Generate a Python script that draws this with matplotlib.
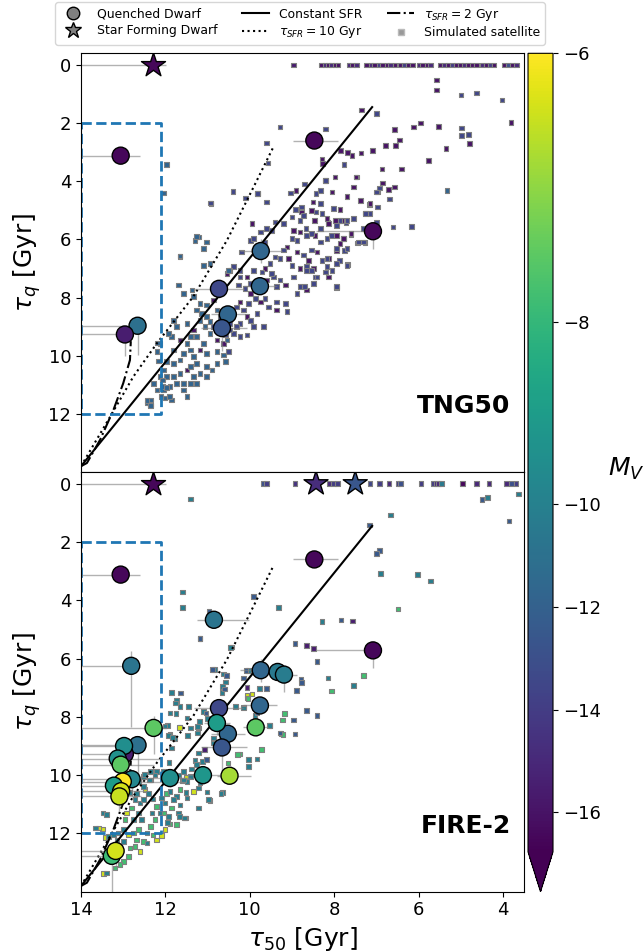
import numpy as np
import matplotlib
matplotlib.use('Agg')
import matplotlib.pyplot as plt
from matplotlib.colors import FuncNorm
from matplotlib.lines import Line2D

# ---------------------------------------------------------------------------
# colour scale (non-uniform M_V spacing)
mv_nodes = [-30.0, -16.77, -10.0, -8.0, -6.0, 0.0]
cb_nodes = [-0.86, 0.0, 0.435, 0.663, 1.0, 2.0]
mv_ticks = [-6, -8, -10, -12, -14, -16]

# model tracks (tau50, tauq)
const_t50 = [14.0, 7.1]
const_tq = [13.8, 1.45]
sfr10_t50 = [14.0, 13.31, 12.76, 12.2, 11.34, 10.54, 9.91, 9.45]
sfr10_tq = [13.8, 12.1, 10.72, 9.57, 7.97, 6.03, 4.2, 2.85]
sfr2_t50 = [14.0, 13.86, 13.55, 13.23, 13.0, 12.84, 12.82]
sfr2_tq = [13.8, 13.69, 12.9, 11.86, 10.95, 10.15, 9.5]
box_t50 = [14.0, 12.1]
box_tq = [2.0, 12.0]

# observed quenched dwarfs (both panels)
obs_t50 = [13.06, 12.66, 12.96, 10.73, 9.74, 9.76, 10.52, 10.66, 8.47, 7.08]
obs_tq = [3.12, 8.97, 9.27, 7.70, 6.40, 7.61, 8.58, 9.05, 2.60, 5.72]
obs_mv = [-16.5, -11.1, -15.5, -13.4, -11.7, -11.7, -11.7, -12.6, -16.5, -16.5]
obs_t50_lo = [0.46, 0.1, 0.1, 0.6, 0.5, 0.4, 0.4, 0.6, 0.55, 0.0]
obs_t50_hi = [0.94, 1.34, 1.04, 0.6, 0.5, 0.4, 0.4, 0.5, 0.5, 1.35]
obs_tq_lo = [0.0, 0.0, 0.0, 0.3, 0.4, 0.2, 0.3, 0.3, 0.0, 0.0]
obs_tq_hi = [0.0, 1.0, 0.75, 0.3, 0.4, 0.2, 0.3, 0.8, 0.0, 0.6]

# observed star forming dwarfs
sf_t50 = [12.29]
sf_mv = [-16.5]
sf_t50_lo = [0.3]
sf_t50_hi = [1.71]
fire_sf_t50 = [8.43, 7.50]
fire_sf_mv = [-14.8, -12.6]

# extra quenched dwarfs shown in the FIRE-2 panel
fobs_t50 = [12.81, 10.85, 9.34, 9.19, 10.78, 9.86, 10.48, 11.11, 11.89, 12.28,
            12.98, 13.13, 13.06, 12.80, 13.01, 13.22, 13.05, 13.09, 13.27, 13.18]
fobs_tq = [6.25, 4.67, 6.46, 6.55, 8.21, 8.36, 10.02, 10.0, 10.1, 8.38,
           9.0, 9.43, 9.64, 10.14, 10.22, 10.36, 10.55, 10.73, 12.77, 12.60]
fobs_mv = [-10.8, -10.8, -10.5, -10.3, -9.0, -7.5, -6.8, -9.2, -9.5, -7.5,
           -9.5, -9.4, -7.5, -9.8, -6.0, -9.0, -6.4, -6.5, -7.9, -6.4]
fobs_t50_lo = [0.1, 0.82, 0.3, 0.3, 0.3, 0.3, 0.5, 0.4, 0.5, 0.3,
               0.5, 1.0, 0.8, 0.3, 1.5, 0.3, 0.6, 0.5, 0.2, 0.2]
fobs_t50_hi = [1.19, 0.41, 0.3, 0.3, 0.3, 0.3, 0.3, 0.4, 0.5, 1.72,
               1.02, 0.87, 0.94, 1.2, 0.99, 0.78, 0.95, 0.91, 0.73, 0.82]
fobs_tq_lo = [0.5, 0.0, 0.3, 0.3, 0.3, 0.3, 0.3, 0.3, 0.3, 0.4,
              0.2, 0.2, 0.2, 0.2, 0.2, 0.2, 0.2, 0.2, 0.3, 0.3]
fobs_tq_hi = [2.1, 0.0, 0.3, 0.6, 0.4, 0.3, 0.3, 0.3, 0.3, 0.9,
              0.5, 0.5, 0.5, 0.6, 0.5, 0.5, 0.5, 0.5, 1.23, 0.5]

# ---------------------------------------------------------------------------
# TNG50 simulated satellites
tng_row_t50 = [8.97, 8.30, 8.22, 8.14, 8.06, 7.98, 7.91, 7.65, 7.56, 7.47, 7.23,
               7.13, 7.04, 6.94, 6.85, 6.75, 6.66, 6.56, 6.44, 6.34, 6.25, 6.15,
               5.99, 5.90, 5.80, 5.71, 5.49, 5.39, 5.30, 5.20, 5.11, 5.01, 4.92,
               4.82, 4.73, 4.63, 4.50, 4.40, 4.31, 4.21, 3.97, 3.87, 3.78, 3.68]
tng_row_mv = [-15.5, -16, -15, -16, -15, -16, -16, -15, -16, -15, -16,
              -15, -16, -14, -16, -16, -15, -16, -16, -14, -16, -16,
              -15, -16, -16, -15, -16, -15, -16, -14, -16, -16, -15,
              -16, -16, -16, -15, -16, -14, -16, -16, -13, -16, -15]

tng_p_t50 = [5.57, 5.57, 3.81, 7.35, 6.57, 6.12, 5.95, 5.53, 4.79, 5.35, 5.76, 6.45,
             6.55, 6.79, 7.09, 7.36, 7.58, 7.68, 7.85, 8.29, 8.28, 6.87, 6.40, 7.47,
             6.85, 6.57, 6.71, 6.97, 7.16, 7.26, 7.45, 7.27, 7.60, 7.78, 7.95, 8.15,
             7.97, 8.46, 8.45, 8.13, 7.98, 8.21, 8.90, 7.48, 7.54, 8.05, 7.70, 7.38,
             7.15, 8.50, 8.53, 8.77, 8.17, 7.86, 8.13, 7.82, 7.94, 7.78, 7.60, 7.86,
             8.96, 8.81, 9.12, 8.88, 8.61, 8.41, 9.08, 8.81, 8.49, 8.13, 9.16, 9.60,
             9.64, 10.07, 9.95, 9.82, 10.54, 9.99, 9.75, 10.23, 10.07, 10.62, 10.78,
             11.18, 11.34, 11.49, 11.65, 10.86, 9.36, 8.65]
tng_p_tq = [0.52, 0.86, 1.97, 1.55, 2.23, 2.14, 2.00, 2.12, 2.71, 2.88, 3.28, 2.58,
            2.78, 2.78, 2.94, 3.03, 3.11, 3.01, 2.94, 3.23, 3.40, 3.58, 3.58, 3.86,
            4.06, 4.20, 4.29, 4.37, 4.79, 5.09, 6.12, 6.10, 5.84, 5.96, 6.40, 5.40,
            5.34, 5.34, 5.86, 6.66, 3.86, 3.97, 4.31, 3.86, 4.20, 4.37, 4.52, 4.66,
            4.77, 4.71, 5.00, 5.06, 5.29, 4.98, 5.46, 5.34, 5.86, 5.97, 5.80, 6.14,
            5.69, 5.74, 6.26, 6.43, 6.72, 6.43, 6.66, 7.00, 7.00, 7.29, 7.57, 7.40,
            7.00, 7.29, 5.46, 4.43, 7.17, 7.86, 8.15, 8.15, 8.66, 9.58, 9.46,
            9.81, 9.12, 10.49, 9.46, 8.09, 8.43, 7.74]

tng_b_t50 = [4.99, 4.63, 4.02, 7.00, 8.20, 4.98, 4.98, 4.81, 7.77, 8.21, 6.93, 6.69,
             6.97, 7.00, 6.61, 6.17, 7.31, 7.76, 7.87, 7.69, 8.07, 7.86, 7.72, 8.33,
             8.21, 8.45, 7.94, 8.71, 8.65, 8.70, 9.04, 8.43, 8.33, 10.40, 10.92, 6.99,
             7.15, 7.26, 8.91, 8.73, 8.43, 8.29, 8.02, 7.94, 7.70, 7.54, 7.70, 7.42,
             7.30, 8.17, 7.94, 9.40, 9.48, 9.60, 9.20, 8.65, 8.53, 8.88, 9.00, 9.20,
             8.73, 8.53, 8.33, 9.28, 9.40, 9.52, 9.00, 8.65, 8.29, 8.17, 8.05, 7.94,
             8.96, 9.36, 9.28, 9.44, 9.48, 9.71, 9.91, 9.99, 10.23, 10.19, 9.99, 9.91,
             9.75, 9.64, 10.23, 10.39, 10.47, 10.27, 10.11, 9.87, 9.64, 9.56, 9.12,
             9.16, 9.36, 10.03, 10.31, 10.15, 10.23, 9.99, 9.83, 9.91, 9.68, 10.07,
             10.23, 10.39, 10.47, 10.31, 10.58, 10.51, 8.49, 8.17, 7.94, 7.70, 8.81,
             9.00, 8.67, 8.77, 8.33, 8.53, 8.41, 8.81, 8.88, 10.62, 10.47, 10.70,
             10.70, 10.86, 10.93, 10.10, 9.81, 9.60, 9.28, 9.60, 9.57]
tng_b_tq = [1.03, 0.97, 1.20, 1.68, 2.20, 2.17, 2.43, 2.40, 3.43, 3.97, 4.23, 4.61,
            4.89, 5.40, 5.57, 5.55, 5.63, 6.38, 6.73, 6.86, 5.86, 5.34, 5.43, 5.63,
            7.12, 7.29, 7.65, 7.63, 6.94, 4.09, 4.40, 4.43, 4.31, 4.35, 4.77, 4.37,
            5.11, 5.11, 4.98, 5.17, 5.06, 5.11, 4.94, 5.52, 5.34, 5.29, 6.32, 6.09,
            6.09, 5.97, 6.32, 5.40, 5.69, 5.63, 5.46, 5.86, 5.80, 6.03, 5.97, 6.37,
            6.54, 6.37, 6.09, 6.66, 6.60, 6.83, 6.89, 7.06, 6.72, 6.66, 7.06, 7.63,
            7.29, 7.63, 7.40, 7.29, 7.17, 7.12, 7.06, 7.52, 7.29, 6.43, 6.03, 5.97,
            5.74, 6.09, 7.06, 6.94, 7.06, 7.57, 7.69, 8.03, 8.03, 8.32, 8.49,
            8.20, 8.15, 8.20, 8.32, 8.43, 8.89, 8.78, 8.55, 9.00, 9.00, 9.29,
            9.35, 9.23, 9.12, 9.00, 9.29, 9.86, 7.52, 6.94, 6.83, 6.89, 5.34,
            5.23, 5.63, 4.89, 4.77, 7.06, 7.29, 7.63, 7.86, 9.00, 8.89, 8.66,
            9.00, 9.00, 4.75, 4.57, 4.43, 4.71, 2.14, 2.68, 3.37]

tng_t_t50 = [5.33, 10.62, 10.78, 10.54, 10.94, 11.02, 11.18, 11.41, 11.49, 11.81, 11.73,
             11.49, 11.26, 11.18, 11.34, 11.37, 11.57, 11.69, 11.10, 10.94, 11.10, 11.02,
             11.30, 11.22, 11.65, 10.51, 10.78, 11.02, 11.14, 11.06, 10.94, 11.10, 11.26,
             11.02, 10.78, 10.90, 11.02, 11.18, 11.26, 11.34, 11.41, 11.57, 11.65, 11.81,
             11.97, 12.05, 12.13, 11.97, 11.81, 11.65, 11.41, 11.73, 11.89, 12.05, 12.28,
             12.20, 11.85, 12.01, 11.81, 11.85, 11.93, 12.13, 12.20, 11.02, 10.58, 11.26,
             11.57, 12.44, 12.36, 11.41, 11.57, 11.49, 12.36, 12.44, 12.35, 11.98, 12.05,
             12.18, 12.17, 12.07, 12.07, 11.98, 12.10, 11.90, 11.65, 11.26, 11.34]
tng_t_tq = [4.31, 9.98, 9.86, 9.46, 8.83, 8.66, 8.78, 9.35, 9.58, 8.78, 9.00,
            8.89, 8.43, 8.20, 7.97, 7.74, 7.86, 7.57, 6.89, 6.83, 6.32, 6.09,
            6.03, 5.92, 6.58, 7.06, 8.43, 8.26, 8.55, 9.00, 9.23, 9.58, 9.35,
            9.92, 10.26, 10.49, 10.38, 10.61, 10.26, 10.03, 9.81, 9.92, 10.15, 10.26,
            10.20, 10.49, 10.72, 10.72, 10.72, 10.61, 10.38, 10.95, 11.06, 11.18, 10.95,
            11.18, 11.52, 11.46, 9.81, 9.35, 9.23, 9.58, 9.86, 10.72, 10.20, 10.95,
            10.95, 11.63, 11.69, 10.95, 11.18, 11.40, 11.52, 11.54, 11.72, 3.43, 4.40,
            9.57, 10.18, 10.83, 11.06, 11.10, 11.40, 11.40, 6.57, 5.90, 10.72]

# ---------------------------------------------------------------------------
# FIRE-2 simulated satellites
fire_row_t50 = [9.68, 9.61, 8.93, 8.12, 8.02, 7.92, 7.15, 6.93, 6.70, 6.49, 6.43,
                5.94, 5.64, 5.58, 5.52, 5.45, 4.96, 4.62, 4.33, 3.91, 3.80, 3.69]
fire_row_mv = [-13, -14, -14.5, -15, -14, -14, -13.5, -14, -15, -14, -13,
               -14, -14, -15, -15, -10.5, -16.5, -15, -15, -15, -13, -14]

fire_y_t50 = [9.95, 10.07, 11.65, 11.34, 12.01, 12.09, 12.44, 12.48, 12.60, 12.88,
              13.43, 12.92, 13.49, 11.66, 11.51, 13.58, 13.47, 10.07, 12.21, 13.12]
fire_y_tq = [7.22, 7.36, 8.35, 10.56, 11.87, 12.08, 11.99, 10.50, 12.62, 12.05,
             12.13, 11.30, 11.85, 8.36, 10.07, 11.82, 13.38, 7.25, 12.22, 11.99]

fire_g_t50 = [9.72, 10.24, 10.52, 11.61, 11.65, 11.97, 11.85, 11.53, 12.21, 12.84,
              12.88, 12.05, 10.29, 9.17, 9.22, 9.26, 9.21, 10.04, 6.49, 7.31,
              8.06, 12.76, 13.00, 12.72, 12.29, 12.36, 12.25, 12.64, 13.08, 13.19,
              12.96, 12.80, 11.73, 11.89, 12.52, 12.68]
fire_g_tq = [9.13, 9.27, 9.59, 10.19, 10.50, 10.62, 11.13, 11.47, 11.07, 12.50,
             12.79, 11.30, 9.30, 7.89, 8.11, 8.58, 8.61, 7.38, 4.30, 6.58,
             7.11, 11.99, 12.96, 12.45, 12.05, 11.76, 11.53, 11.87, 13.07, 13.19,
             11.53, 11.13, 11.70, 11.67, 12.27, 12.22]

fire_t_t50 = [11.60, 11.18, 10.43, 10.15, 9.52, 10.03, 10.64, 10.94, 10.86, 11.22,
              11.30, 11.26, 11.38, 11.41, 11.18, 11.22, 11.49, 11.51, 11.41, 11.22,
              11.89, 11.77, 11.65, 11.73, 11.85, 11.75, 11.49, 11.45, 11.19, 11.95,
              11.85, 11.91, 11.57, 11.69, 11.89, 11.73, 12.09, 12.01, 11.69, 11.93,
              12.13, 12.32, 12.29, 12.40, 12.52, 12.36, 12.21, 12.36, 12.52, 12.64,
              12.60, 12.64, 12.56, 12.44, 12.76, 12.68, 12.72, 12.84, 12.52, 11.95,
              11.81, 11.65, 11.49, 11.57, 11.40, 11.59, 9.32, 10.45, 10.03, 10.15,
              10.34, 10.65, 10.58, 10.83, 10.63, 10.66, 11.10, 11.00, 10.79, 10.86,
              9.53, 9.83, 10.03, 10.68, 10.98, 11.22, 11.01, 11.55, 11.66, 11.76,
              11.89, 12.01, 11.93, 11.83, 11.47, 11.24, 11.24, 11.12, 11.82, 12.38,
              12.49, 12.25, 12.04, 13.48, 13.39, 13.66, 9.77, 9.88, 8.29, 8.15,
              7.54, 6.02, 5.72, 3.63, 4.36, 6.66, 6.90, 13.39, 13.35, 13.23,
              13.27, 13.08, 13.15, 13.00, 13.00]
fire_t_tq = [4.24, 5.32, 5.61, 7.66, 8.30, 9.47, 10.59, 10.87, 8.73, 9.24,
             9.49, 9.64, 9.79, 10.04, 10.25, 10.44, 10.22, 10.59, 8.38, 8.38,
             8.61, 8.76, 7.64, 7.44, 7.16, 7.89, 8.04, 7.64, 8.16, 8.30,
             9.07, 9.56, 9.87, 9.99, 10.56, 10.73, 10.79, 10.96, 11.30, 11.42,
             11.30, 11.30, 10.82, 10.62, 10.39, 10.16, 9.87, 9.87, 10.04, 10.22,
             10.96, 11.30, 11.53, 12.33, 11.53, 10.62, 10.84, 10.59, 10.84, 11.62,
             10.84, 11.02, 10.79, 10.16, 0.53, 3.72, 4.24, 5.62, 6.40, 7.70,
             7.64, 6.95, 6.80, 6.38, 6.53, 7.16, 7.81, 8.05, 7.70, 8.90,
             8.29, 9.44, 9.70, 10.62, 10.84, 11.13, 10.58, 11.47, 11.42, 7.53,
             7.87, 8.31, 8.65, 8.71, 8.64, 8.33, 8.56, 9.53, 9.90, 10.16,
             9.97, 9.99, 9.87, 11.30, 11.34, 11.82, 7.02, 7.95, 4.72, 6.67,
             6.93, 3.11, 3.34, 0.35, 0.47, 1.07, 3.09, 13.36, 12.10, 12.05,
             12.45, 12.45, 12.22, 12.27, 11.87]

fire_b_t50 = [10.88, 10.55, 10.60, 10.09, 10.15, 9.60, 9.36, 9.83, 9.28, 11.02,
              11.04, 9.91, 8.93, 8.41, 8.79, 8.78, 8.89, 8.66, 8.41, 8.93,
              8.97, 9.60, 11.64, 7.84, 4.50, 3.86, 7.16, 6.93, 7.00, 11.18, 10.97]
fire_b_tq = [6.38, 6.59, 7.05, 6.41, 6.67, 7.01, 6.50, 7.87, 8.56, 9.47,
             7.87, 3.87, 5.48, 6.10, 6.70, 6.82, 7.10, 7.78, 7.95, 8.59,
             8.11, 7.03, 7.18, 4.68, 0.55, 1.28, 1.42, 2.29, 2.40, 5.31, 4.38]

fire_p_t50 = [10.07, 11.07, 8.66, 8.49, 7.56]
fire_p_tq = [6.99, 9.13, 5.56, 5.66, 4.71]

# ---------------------------------------------------------------------------
def fwd(v):
    return np.interp(np.asarray(v, dtype=float), mv_nodes, cb_nodes)

def inv(f):
    return np.interp(np.asarray(f, dtype=float), cb_nodes, mv_nodes)

norm = FuncNorm((fwd, inv), vmin=mv_nodes[1], vmax=-6.0)
cmap = plt.get_cmap('viridis')

fsti = 13
fslab = 18

fig = plt.figure(figsize=(6.44, 9.52), dpi=100, facecolor='w')
ax1 = fig.add_axes([0.1258, 0.5042, 0.6879, 0.4398])
ax2 = fig.add_axes([0.1258, 0.0633, 0.6879, 0.4409])
cax = fig.add_axes([0.8199, 0.0633, 0.0388, 0.8807])


def draw_sims(ax, t50, tq, mv):
    return ax.scatter(t50, tq, c=mv, cmap=cmap, norm=norm, marker='s', s=11,
                      edgecolors='gray', linewidths=0.8, zorder=1)


def draw_obs(ax, t50, tq, mv, xlo, xhi, ylo, yhi, marker='o', size=150):
    ax.errorbar(t50, tq, xerr=[xlo, xhi], yerr=[ylo, yhi], fmt='none',
                ecolor='gray', elinewidth=1.0, alpha=0.6, zorder=2.5)
    ax.scatter(t50, tq, c=mv, cmap=cmap, norm=norm, marker=marker, s=size,
               edgecolors='k', linewidths=1.0, zorder=3)


def draw_tracks(ax):
    ax.plot(const_t50, const_tq, color='k', lw=1.5, zorder=2)
    ax.plot(sfr10_t50, sfr10_tq, color='k', lw=1.5, ls=':', zorder=2)
    ax.plot(sfr2_t50, sfr2_tq, color='k', lw=1.5, ls='-.', zorder=2)
    ax.plot([box_t50[0], box_t50[1], box_t50[1], box_t50[0], box_t50[0]],
            [box_tq[0], box_tq[0], box_tq[1], box_tq[1], box_tq[0]],
            color='tab:blue', lw=2, ls='--', zorder=2)


# TNG50
draw_sims(ax1, tng_row_t50, np.zeros(len(tng_row_t50)), tng_row_mv)
draw_sims(ax1, tng_p_t50, tng_p_tq, np.full(len(tng_p_t50), -16.0))
draw_sims(ax1, tng_b_t50, tng_b_tq, np.full(len(tng_b_t50), -13.5))
draw_sims(ax1, tng_t_t50, tng_t_tq, np.full(len(tng_t_t50), -11.8))
draw_tracks(ax1)
draw_obs(ax1, obs_t50, obs_tq, obs_mv, obs_t50_lo, obs_t50_hi, obs_tq_lo, obs_tq_hi)
draw_obs(ax1, sf_t50, [0.0], sf_mv, sf_t50_lo, sf_t50_hi, [0.0], [0.0],
         marker='*', size=330)
ax1.text(0.97, 0.14, 'TNG50', transform=ax1.transAxes, ha='right', va='baseline',
         fontsize=18, fontweight='bold')

# FIRE-2
draw_sims(ax2, fire_row_t50, np.zeros(len(fire_row_t50)), fire_row_mv)
draw_sims(ax2, fire_y_t50, fire_y_tq, np.full(len(fire_y_t50), -6.4))
draw_sims(ax2, fire_g_t50, fire_g_tq, np.full(len(fire_g_t50), -7.8))
draw_sims(ax2, fire_t_t50, fire_t_tq, np.full(len(fire_t_t50), -10.2))
draw_sims(ax2, fire_b_t50, fire_b_tq, np.full(len(fire_b_t50), -12.5))
draw_sims(ax2, fire_p_t50, fire_p_tq, np.full(len(fire_p_t50), -15.5))
draw_tracks(ax2)
draw_obs(ax2, obs_t50, obs_tq, obs_mv, obs_t50_lo, obs_t50_hi, obs_tq_lo, obs_tq_hi)
draw_obs(ax2, fobs_t50, fobs_tq, fobs_mv, fobs_t50_lo, fobs_t50_hi, fobs_tq_lo, fobs_tq_hi)
draw_obs(ax2, sf_t50, [0.0], sf_mv, sf_t50_lo, sf_t50_hi, [0.0], [0.0],
         marker='*', size=330)
draw_obs(ax2, fire_sf_t50, [0.0, 0.0], fire_sf_mv, [0.0, 0.0], [0.0, 0.0],
         [0.0, 0.0], [0.0, 0.0], marker='*', size=330)
ax2.text(0.97, 0.14, 'FIRE-2', transform=ax2.transAxes, ha='right', va='baseline',
         fontsize=18, fontweight='bold')

for ax in [ax1, ax2]:
    ax.set_xlim(14, 3.5)
    ax.set_ylim(14, -0.4)
    ax.set_yticks([0, 2, 4, 6, 8, 10, 12])
    ax.set_xticks([14, 12, 10, 8, 6, 4])
    ax.tick_params(labelsize=fsti)
    ax.set_ylabel(r'$\tau_q$ [Gyr]', fontsize=fslab)
ax1.tick_params(labelbottom=False)
ax2.set_xlabel(r'$\tau_{50}$ [Gyr]', fontsize=fslab)

# colour bar
sm = plt.cm.ScalarMappable(norm=norm, cmap=cmap)
cb = fig.colorbar(sm, cax=cax, extend='min')
cb.set_ticks(mv_ticks)
cb.ax.tick_params(labelsize=fsti)
cb.ax.set_ylabel('$M_V$', rotation=0, fontsize=18, ha='left', va='center')
cb.ax.yaxis.set_label_coords(3.2, 0.48)

# legend
handles = [
    Line2D([], [], ls='none', marker='o', ms=9, mfc='gray', mec='k', label='Quenched Dwarf'),
    Line2D([], [], ls='none', marker='*', ms=12, mfc='gray', mec='k', label='Star Forming Dwarf'),
    Line2D([], [], color='k', lw=1.5, label='Constant SFR'),
    Line2D([], [], color='k', lw=1.5, ls=':', label=r'$\tau_{SFR} = 10$ Gyr'),
    Line2D([], [], color='k', lw=1.5, ls='-.', label=r'$\tau_{SFR} = 2$ Gyr'),
    Line2D([], [], ls='none', marker='s', ms=4, mfc='#999999', mec='#bbbbbb', label='Simulated satellite'),
]
fig.legend(handles=handles, loc='upper center', bbox_to_anchor=(0.466, 0.999),
           ncol=3, fontsize=8.9, columnspacing=2.0, handlelength=2.2,
           handletextpad=0.8, borderpad=0.35, labelspacing=0.3,
           borderaxespad=0.1)

plt.savefig('out.png', dpi=100)
